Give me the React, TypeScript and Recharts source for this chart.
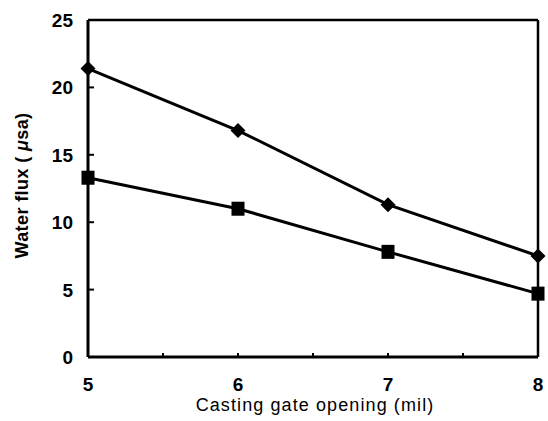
import React from 'react';
import { LineChart, Line, XAxis, YAxis, ReferenceLine } from 'recharts';

const gateOpening = [5, 6, 7, 8];
const fluxDiamond = [21.4, 16.8, 11.3, 7.5];
const fluxSquare = [13.3, 11.0, 7.8, 4.7];
const xTicks = [5, 5.5, 6, 6.5, 7, 7.5, 8];
const yTicks = [0, 5, 10, 15, 20, 25];

const data = gateOpening.map((g, i) => ({ g, a: fluxDiamond[i], b: fluxSquare[i] }));

const FONT = '"Liberation Sans", Arial, sans-serif';

const Diamond = (props: any) => {
  const { cx, cy } = props;
  if (cx == null || cy == null) return null;
  return <path d={`M${cx},${cy - 7.5} L${cx + 7.5},${cy} L${cx},${cy + 7.5} L${cx - 7.5},${cy} Z`} fill="#000" />;
};

const Square = (props: any) => {
  const { cx, cy } = props;
  if (cx == null || cy == null) return null;
  return <rect x={cx - 6.5} y={cy - 7} width={13} height={14} fill="#000" />;
};

const XTick = (props: any) => {
  const { x, payload } = props;
  const v = payload.value;
  if (!Number.isInteger(v)) return null;
  return (
    <text x={x} y={391} textAnchor="middle" fontSize={19} fontWeight="bold" fontFamily={FONT} fill="#000">
      {v}
    </text>
  );
};

const YTick = (props: any) => {
  const { y, payload } = props;
  return (
    <text x={73} y={y + 7} textAnchor="end" fontSize={19} fontWeight="bold" fontFamily={FONT} fill="#000">
      {payload.value}
    </text>
  );
};

export default function App() {
  return (
    <div style={{ position: 'absolute', left: 0, top: 0, background: '#fff' }}>
      <LineChart width={548} height={421} data={data} margin={{ top: 20, right: 10, bottom: 0, left: 0 }}>
        <XAxis
          dataKey="g"
          type="number"
          domain={[5, 8]}
          ticks={xTicks}
          height={64}
          tickSize={-4}
          tickMargin={28}
          axisLine={{ stroke: '#000', strokeWidth: 3 }}
          tickLine={{ stroke: '#000', strokeWidth: 2 }}
          tick={<XTick />}
          interval={0}
          label={(p: any) => {
            const vb = p.viewBox;
            return (
              <text x={vb.x + vb.width / 2 + 2} y={vb.y + 54} textAnchor="middle" fontSize={18} letterSpacing={1.1} fontFamily={FONT} fill="#000">
                Casting gate opening (mil)
              </text>
            );
          }}
        />
        <YAxis
          type="number"
          domain={[0, 25]}
          ticks={yTicks}
          width={88}
          tickSize={-6}
          tickMargin={22}
          axisLine={{ stroke: '#000', strokeWidth: 3 }}
          tickLine={{ stroke: '#000', strokeWidth: 2 }}
          tick={<YTick />}
          interval={0}
          label={(p: any) => {
            const vb = p.viewBox;
            const cy = vb.y + vb.height / 2 - 3;
            return (
              <text x={28} y={cy} transform={`rotate(-90, 28, ${cy})`} textAnchor="middle" fontSize={18} fontWeight="bold" letterSpacing={0.4} fontFamily={FONT} fill="#000">
                Water flux ( <tspan fontStyle="italic">μ</tspan>sa)
              </text>
            );
          }}
        />
        <ReferenceLine y={25} stroke="#000" strokeWidth={2.5} ifOverflow="visible" />
        <ReferenceLine x={8} stroke="#000" strokeWidth={2.5} ifOverflow="visible" />
        <Line dataKey="a" stroke="#000" strokeWidth={3} dot={<Diamond />} isAnimationActive={false} />
        <Line dataKey="b" stroke="#000" strokeWidth={3} dot={<Square />} isAnimationActive={false} />
      </LineChart>
    </div>
  );
}
